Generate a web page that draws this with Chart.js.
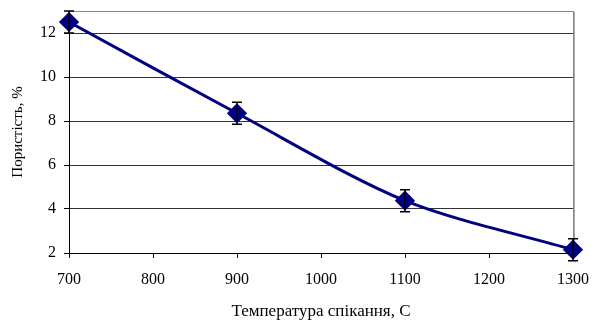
<!DOCTYPE html>
<html><head><meta charset="utf-8">
<script src="https://cdn.jsdelivr.net/npm/chart.js@4/dist/chart.umd.min.js"></script>
<style>html,body{margin:0;padding:0;background:#fff}#wrap{width:594px;height:320px}</style>
</head><body><div id="wrap"><canvas id="c" width="594" height="320"></canvas></div>
<script>
const temperatures = [700, 900, 1100, 1300];
const porosity = [12.5, 8.35, 4.38, 2.15];
const porosityError = [0.5, 0.5, 0.5, 0.5];
const xTicks = [700, 800, 900, 1000, 1100, 1200, 1300];
const yTicks = [2, 4, 6, 8, 10, 12];

const errorBars = {
  id: 'errorBars',
  afterDatasetsDraw(chart) {
    const ctx = chart.ctx, xs = chart.scales.x, ys = chart.scales.y;
    ctx.save();
    ctx.strokeStyle = '#000';
    ctx.lineWidth = 1.5;
    temperatures.forEach((t, i) => {
      const px = xs.getPixelForValue(t);
      const top = ys.getPixelForValue(porosity[i] + porosityError[i]);
      const bot = ys.getPixelForValue(porosity[i] - porosityError[i]);
      ctx.beginPath();
      ctx.moveTo(px, top); ctx.lineTo(px, bot);
      ctx.moveTo(px - 5, top); ctx.lineTo(px + 5, top);
      ctx.moveTo(px - 5, bot); ctx.lineTo(px + 5, bot);
      ctx.stroke();
    });
    ctx.restore();
  }
};

const fam = '"Liberation Serif", "Times New Roman", serif';

new Chart(document.getElementById('c'), {
  type: 'line',
  data: {
    datasets: [{
      data: temperatures.map((t, i) => ({x: t, y: porosity[i]})),
      borderColor: '#000080',
      backgroundColor: '#000080',
      borderWidth: 3,
      tension: 0.3,
      clip: false,
      pointStyle: 'rectRot',
      pointRadius: 8,
      pointHoverRadius: 8,
      pointBackgroundColor: '#000080',
      pointBorderColor: '#000080'
    }]
  },
  options: {
    responsive: false,
    animation: false,
    devicePixelRatio: 1,
    plugins: {legend: {display: false}, tooltip: {enabled: false}},
    layout: {padding: {left: 0, right: 21, top: 11, bottom: 0}},
    scales: {
      x: {
        type: 'linear', min: 700, max: 1300,
        afterBuildTicks: a => { a.ticks = xTicks.map(v => ({value: v})); },
        afterFit: a => { a.height = 67; a.paddingLeft = 0; a.paddingRight = 0; },
        grid: {drawOnChartArea: false, drawTicks: true, tickLength: 5, tickColor: '#000'},
        border: {color: '#000', width: 1},
        ticks: {font: {family: fam, size: 16}, color: '#000', padding: 12, maxRotation: 0, callback: v => String(v)},
        title: {display: true, text: 'Температура спікання, C', font: {family: fam, size: 17}, color: '#000', padding: {top: 0, bottom: -2}}
      },
      y: {
        type: 'linear', min: 2, max: 13,
        afterBuildTicks: a => { a.ticks = yTicks.concat([13]).map(v => ({value: v})); },
        afterFit: a => { a.width = 69; a.paddingTop = 0; a.paddingBottom = 0; },
        grid: {color: ctx => ctx.tick && ctx.tick.value === 13 ? '#888' : '#333', tickLength: 5, tickColor: ctx => ctx.tick && ctx.tick.value === 13 ? 'rgba(0,0,0,0)' : '#000'},
        border: {color: '#000', width: 1},
        ticks: {font: {family: fam, size: 16}, color: '#000', padding: 8, callback: v => v === 13 ? '' : String(v)},
        title: {display: true, text: 'Пористість, %', font: {family: fam, size: 15}, color: '#000', padding: {top: 9, bottom: 0}}
      }
    }
  },
  plugins: [errorBars, {
    id: 'rightBorder',
    beforeDatasetsDraw(chart) {
      const {ctx, chartArea: a} = chart;
      ctx.save();
      ctx.strokeStyle = '#888'; ctx.lineWidth = 1;
      ctx.beginPath(); ctx.moveTo(a.right + 0.5, a.top); ctx.lineTo(a.right + 0.5, a.bottom); ctx.stroke();
      ctx.strokeStyle = '#aaa';
      ctx.beginPath(); ctx.moveTo(a.right + 1.5, a.top + 1); ctx.lineTo(a.right + 1.5, a.bottom + 1); ctx.stroke();
      ctx.restore();
    }
  }]
});
</script></body></html>
